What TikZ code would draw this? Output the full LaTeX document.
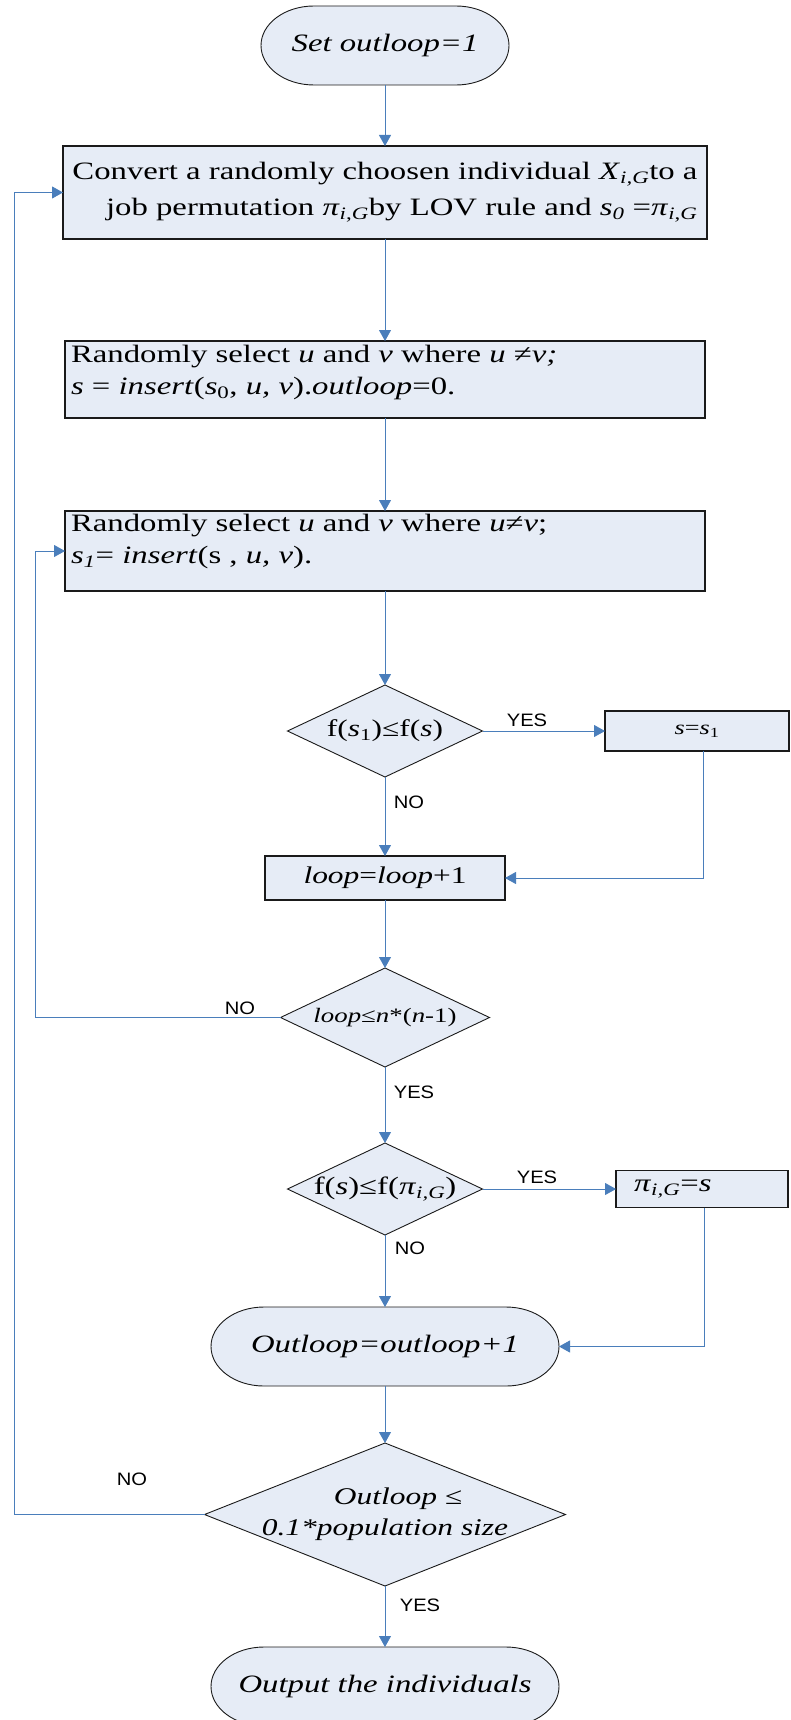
\documentclass[tikz,border=0pt]{standalone}
\usepackage{fontspec}
\setmainfont{Liberation Serif}[FakeStretch=1.31]
\newfontfamily\tagfont{Liberation Sans}[FakeStretch=1.12]
\usetikzlibrary{arrows.meta,shapes.geometric,backgrounds}
\definecolor{boxfill}{HTML}{E6ECF6}
\definecolor{linkblue}{HTML}{4A7EBB}
\definecolor{edge}{HTML}{1A1A1A}

\begin{document}
\begin{tikzpicture}[x=1pt,y=-1pt,
  every node/.style={outer sep=0pt, inner sep=0pt},
  procbox/.style={rectangle, draw=edge, line width=1.1pt, fill=boxfill},
  decision/.style={diamond, draw=edge, line width=0.9pt, fill=boxfill},
  terminal/.style={rectangle, font={\fontsize{25pt}{30pt}\selectfont\itshape}},
  capsule/.style={draw=edge, line width=0.9pt, fill=boxfill},
  conn/.style={draw=linkblue, line width=0.9pt, -{Triangle[length=11pt,width=12pt]}},
  tag/.style={font=\tagfont\fontsize{18pt}{20pt}\selectfont},
  txt/.style={font=\fontsize{25pt}{30pt}\selectfont},
]
\useasboundingbox (0,0) rectangle (790,1720);
\clip (0,0) rectangle (790,1720);

% start terminal
\node[terminal, minimum width=248pt, minimum height=79pt] (t1) at (385,45.5) {Set outloop=1};

% conversion step
\node[procbox, minimum width=644pt, minimum height=93pt, align=right,
      font=\fontsize{25pt}{36pt}\selectfont] (b1) at (385,192.5)
  {Convert a randomly choosen individual \textit{X}\textsubscript{\textit{i,G}}to a\\
   job permutation \textit{π}\textsubscript{\textit{i},\textit{G}}by LOV rule and \textit{s}\textsubscript{\textit{0}} =\textit{π}\textsubscript{\textit{i},\textit{G}}};

% first insertion
\node[procbox, minimum width=640pt, minimum height=77pt] (b2) at (385,379.5) {};
\node[anchor=north west, align=left, font=\fontsize{25pt}{32pt}\selectfont] (b2t) at (71,345)
  {Randomly select \textit{u} and \textit{v} where \textit{u} ≠\textit{v;}\\
   \textit{s} = \textit{insert}(\textit{s}\textsubscript{0}, \textit{u, v}).\textit{outloop}=0.};

% inner insertion
\node[procbox, minimum width=640pt, minimum height=80pt] (b3) at (385,551) {};
\node[anchor=north west, align=left, font=\fontsize{25pt}{32pt}\selectfont] (b3t) at (71,514)
  {Randomly select \textit{u} and \textit{v} where \textit{u}≠\textit{v};\\
   \textit{s}\textsubscript{\textit{1}}= \textit{insert}(s , \textit{u, v}).};

% acceptance test
\node[decision, minimum width=195pt, minimum height=92pt] (d1) at (385,731) {};
\node[font=\fontsize{24pt}{28pt}\selectfont] (d1t) at (385,731) {f(\textit{s}\textsubscript{1})≤f(\textit{s})};
\node[procbox, minimum width=184pt, minimum height=40pt, font=\fontsize{20pt}{24pt}\selectfont] (sbox) at (697,731)
  {\textit{s}=\textit{s}\textsubscript{1}};

% loop counter
\node[procbox, minimum width=240pt, minimum height=44pt, font=\fontsize{24pt}{28pt}\selectfont] (loopb) at (385,878)
  {\textit{loop}=\textit{loop}+1};

% inner loop test
\node[decision, minimum width=209pt, minimum height=99pt] (d2) at (385,1017.5) {};
\node[font=\fontsize{20.5pt}{24pt}\selectfont] (d2t) at (385,1017.5) {\textit{loop}≤\textit{n}*(\textit{n}-1)};

% best update test
\node[decision, minimum width=195pt, minimum height=92pt] (d3) at (385,1189) {};
\node[txt] (d3t) at (385,1189) {f(\textit{s})≤f(\textit{π}\textsubscript{\textit{i,G}})};
\node[procbox, minimum width=172pt, minimum height=37pt, inner xsep=18pt, text width=136pt, align=left, txt] (pibox) at (702,1189)
  {\textit{π}\textsubscript{\textit{i,G}}=\textit{s}};

% outer counter
\node[terminal, minimum width=348pt, minimum height=79pt] (t2) at (385,1346.5) {Outloop=outloop+1};

% outer loop test
\node[decision, minimum width=361pt, minimum height=143pt] (d4) at (385,1514.5) {};
\node[align=center, font={\fontsize{24pt}{31pt}\selectfont\itshape}] (d4t) at (385,1514.5)
  {\hspace*{26pt}Outloop ≤\\0.1*population size};

% end terminal
\node[terminal, minimum width=348pt, minimum height=79pt] (t3) at (385,1686.5) {Output the individuals};

% rounded outlines of the terminals
\begin{scope}[on background layer]
  \foreach \n in {t1,t2,t3} {
    \draw[capsule] ([xshift=53pt]\n.north west) -- ([xshift=-53pt]\n.north east)
      arc[start angle=90, end angle=-90, x radius=53pt, y radius=39.5pt]
      -- ([xshift=53pt]\n.south west)
      arc[start angle=270, end angle=90, x radius=53pt, y radius=39.5pt] -- cycle;
  }
\end{scope}

% return points of the loops
\coordinate (k1) at (14,192.5);
\coordinate (k2) at (35,551);

% connectors
\draw[conn] (t1) -- (b1);
\draw[conn] (b1) -- (b2);
\draw[conn] (b2) -- (b3);
\draw[conn] (b3) -- (d1);
\draw[conn] (d1.east) -- (sbox.west);
\draw[conn] (d1.south) -- (loopb.north);
\draw[conn] ([xshift=6pt]sbox.south) |- (loopb.east);
\draw[conn] (loopb) -- (d2);
\draw[conn] (d2.west) -| (k2) -- (b3.west);
\draw[conn] (d2.south) -- (d3.north);
\draw[conn] (d3.east) -- (pibox.west);
\draw[conn] (d3.south) -- (t2.north);
\draw[conn] ([xshift=2pt]pibox.south) |- (t2.east);
\draw[conn] (t2) -- (d4);
\draw[conn] (d4.west) -| (k1) -- (b1.west);
\draw[conn] (d4.south) -- (t3.north);

% branch labels
\node[tag] (yes1) at (527,720) {YES};
\node[tag] (no1) at (409,802) {NO};
\node[tag] (no2) at (240,1008) {NO};
\node[tag] (yes2) at (414,1092) {YES};
\node[tag] (yes3) at (537,1177) {YES};
\node[tag] (no3) at (410,1248) {NO};
\node[tag] (no4) at (132,1479) {NO};
\node[tag] (yes4) at (420,1605) {YES};
\end{tikzpicture}
\end{document}
